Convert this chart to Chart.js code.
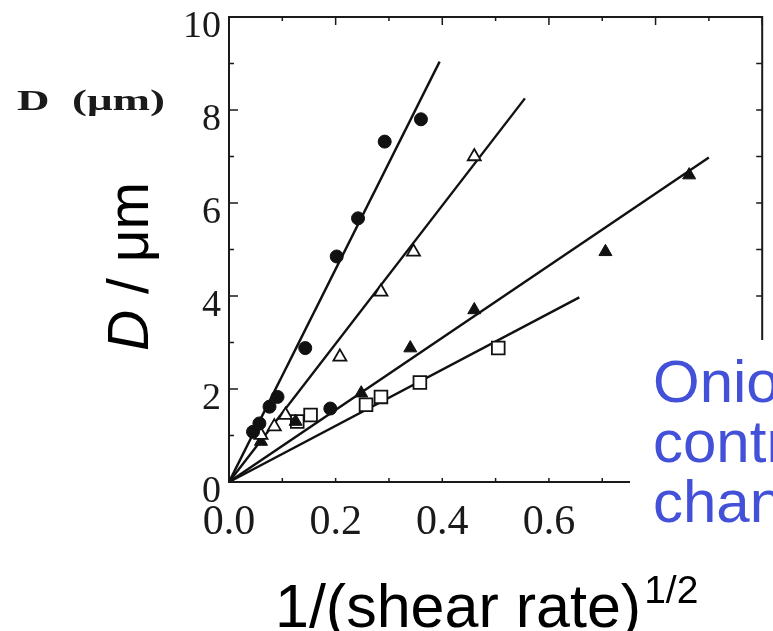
<!DOCTYPE html>
<html>
<head>
<meta charset="utf-8">
<script src="https://cdn.jsdelivr.net/npm/chart.js@4.4.1/dist/chart.umd.min.js"></script>
<style>
  body { margin: 0; background: #fff; overflow: hidden; }
  #wrap { position: relative; width: 773px; height: 631px; overflow: hidden; }
  .old-label {
    position: absolute; left: 17px; top: 85px;
    font: bold 30px 'Liberation Serif', serif; line-height: 1;
    transform-origin: 0 0; transform: scaleX(1.5);
    white-space: nowrap; color: #1a1a1a;
  }
  .y-title {
    position: absolute; left: 100px; top: 351px;
    font: 57px 'Liberation Sans', Arial, sans-serif; line-height: 1;
    transform-origin: 0 0; transform: rotate(-90deg);
    white-space: nowrap; color: #000;
  }
  .note {
    position: absolute; left: 630px; top: 340px; width: 200px; height: 300px;
    background: #fff; box-sizing: border-box; padding: 12px 0 0 23px;
    font: 60px 'Liberation Sans', Arial, sans-serif; line-height: 60px;
    color: #4350d8; white-space: nowrap;
  }
  .x-title {
    position: absolute; left: 275px; top: 576px;
    font: 61px 'Liberation Sans', Arial, sans-serif; line-height: 1;
    white-space: nowrap; color: #000;
  }
  .x-title span { font-size: 39px; position: relative; top: -24px; margin-left: 3px; }
</style>
</head>
<body>
<div id="wrap">
  <canvas id="chart"></canvas>
  <div class="old-label">D&nbsp;&nbsp;(μm)</div>
  <div class="y-title"><i>D</i> / μm</div>
  <div class="note">Onio<br>contr<br>chan</div>
  <div class="x-title">1/(shear rate)<span>1/2</span></div>
</div>
<script>
// filled circles
const circleX = [0.045, 0.057, 0.076, 0.091, 0.143, 0.190, 0.202, 0.242, 0.292, 0.360]
const circleY = [1.08, 1.26, 1.62, 1.83, 2.88, 1.58, 4.85, 5.67, 7.32, 7.80]
// open triangles
const openTriX = [0.060, 0.085, 0.106, 0.208, 0.285, 0.346, 0.460]
const openTriY = [1.01, 1.19, 1.44, 2.69, 4.09, 4.95, 7.00]
// filled triangles
const fillTriX = [0.060, 0.125, 0.248, 0.340, 0.460, 0.706, 0.863]
const fillTriY = [0.87, 1.30, 1.91, 2.88, 3.70, 4.95, 6.60]
// open squares
const squareX = [0.128, 0.153, 0.257, 0.285, 0.358, 0.505]
const squareY = [1.30, 1.44, 1.66, 1.83, 2.14, 2.88]
// fitted lines, all from the origin
const fitEndX = [0.395, 0.555, 0.900, 0.657]
const fitEndY = [9.04, 8.25, 6.98, 3.97]

const pts = (xs, ys) => xs.map((x, i) => ({ x: x, y: ys[i] }))

const lineSets = fitEndX.map((x, i) => ({
  data: [{ x: 0, y: 0 }, { x: x, y: fitEndY[i] }],
  showLine: true,
  borderColor: '#111',
  borderWidth: 2.4,
  pointRadius: 0,
  order: 2
}))

const frame = {
  id: 'frame',
  afterDatasetsDraw(chart) {
    const { ctx, chartArea: a, scales: { x, y } } = chart
    ctx.save()
    ctx.strokeStyle = '#1a1a1a'
    ctx.lineWidth = 2
    ctx.strokeRect(a.left, a.top, a.right - a.left, a.bottom - a.top)
    ctx.lineWidth = 1.5
    ctx.beginPath()
    for (let v = 0; v <= 10; v++) {
      const py = y.getPixelForValue(v)
      const len = v % 2 === 0 ? 9 : 5
      ctx.moveTo(a.left, py); ctx.lineTo(a.left + len, py)
      ctx.moveTo(a.right, py); ctx.lineTo(a.right - 6, py)
    }
    for (let i = 0; i <= 10; i++) {
      const px = x.getPixelForValue(i / 10)
      ctx.moveTo(px, a.top); ctx.lineTo(px, a.top + (i % 2 === 0 ? 8 : 4))
      ctx.moveTo(px, a.bottom); ctx.lineTo(px, a.bottom - 4)
    }
    ctx.stroke()
    ctx.restore()
  }
}

new Chart(document.getElementById('chart'), {
  type: 'scatter',
  data: {
    datasets: [
      ...lineSets,
      {
        data: pts(circleX, circleY),
        pointStyle: 'circle', pointRadius: 6.5,
        backgroundColor: '#111', borderColor: '#111', borderWidth: 1
      },
      {
        data: pts(openTriX, openTriY),
        pointStyle: 'triangle', pointRadius: 7.5,
        backgroundColor: '#fff', borderColor: '#111', borderWidth: 1.8
      },
      {
        data: pts(fillTriX, fillTriY),
        pointStyle: 'triangle', pointRadius: 7.5,
        backgroundColor: '#111', borderColor: '#111', borderWidth: 1
      },
      {
        data: pts(squareX, squareY),
        pointStyle: 'rect', pointRadius: 9,
        backgroundColor: '#fff', borderColor: '#111', borderWidth: 1.8
      }
    ]
  },
  options: {
    responsive: true,
    maintainAspectRatio: false,
    animation: false,
    layout: { padding: { top: 17, right: 2, left: 0, bottom: 0 } },
    plugins: { legend: { display: false }, tooltip: { enabled: false } },
    scales: {
      x: {
        type: 'linear', min: 0, max: 1,
        grid: { display: false, drawTicks: false },
        border: { display: false },
        ticks: {
          stepSize: 0.2, padding: 24, autoSkip: false, maxRotation: 0,
          color: '#1a1a1a',
          font: { family: 'Liberation Serif', size: 42, lineHeight: 0.8 },
          callback: v => v > 0.7 ? '' : v.toFixed(1)
        },
        afterFit: s => { s.height = 149; s.paddingLeft = 0; s.paddingRight = 0 }
      },
      y: {
        min: 0, max: 10,
        grid: { display: false, drawTicks: false },
        border: { display: false },
        ticks: {
          stepSize: 2, padding: 8, labelOffset: 10,
          color: '#1a1a1a',
          font: { family: 'Liberation Serif', size: 38, lineHeight: 0.7 }
        },
        afterFit: s => { s.width = 229; s.paddingTop = 0; s.paddingBottom = 0 }
      }
    }
  },
  plugins: [frame]
})
</script>
</body>
</html>
